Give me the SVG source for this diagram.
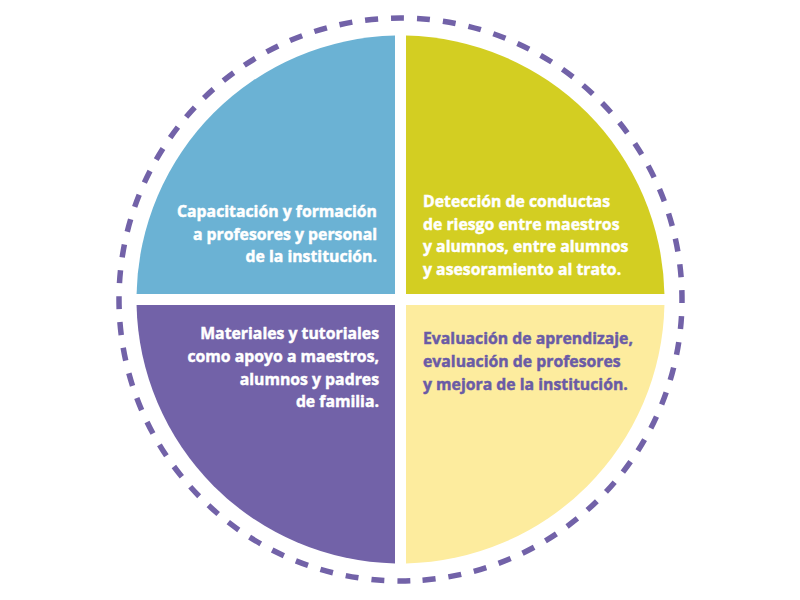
<svg xmlns="http://www.w3.org/2000/svg" width="800" height="600" viewBox="0 0 800 600">
<style>
.t{font-family:"Open Sans","Liberation Sans",sans-serif;font-weight:700;font-size:15.8px;stroke-width:0.45px}
.w{fill:#ffffff;stroke:#ffffff}
.p{fill:#6A5BA6;stroke:#6A5BA6}
.r{text-anchor:end}
</style>
<rect width="800" height="600" fill="#ffffff"/>
<g id="ring">
<circle cx="400.5" cy="299.5" r="281.5" fill="none" stroke="#7262A8" stroke-width="5.5" stroke-dasharray="13 13.01" transform="rotate(88 400.5 299.5)"/>
</g>
<g id="q-capacitacion">
<path d="M395,294 V35.557 A264,264 0 0 0 136.557,294 Z" fill="#6BB2D4"/>
<text class="t w r" x="377" y="217">Capacitación y formación</text>
<text class="t w r" x="377" y="239.5">a profesores y personal</text>
<text class="t w r" x="377" y="262">de la institución.</text>
</g>
<g id="q-deteccion">
<path d="M406,294 V35.557 A264,264 0 0 1 664.443,294 Z" fill="#D3CE22"/>
<text class="t w" x="423" y="207">Detección de conductas</text>
<text class="t w" x="423" y="229.5">de riesgo entre maestros</text>
<text class="t w" x="423" y="252">y alumnos, entre alumnos</text>
<text class="t w" x="423" y="274.5">y asesoramiento al trato.</text>
</g>
<g id="q-materiales">
<path d="M395,305 V563.443 A264,264 0 0 1 136.557,305 Z" fill="#7262A8"/>
<text class="t w r" x="379" y="338.5">Materiales y tutoriales</text>
<text class="t w r" x="379" y="361.5">como apoyo a maestros,</text>
<text class="t w r" x="379" y="384.5">alumnos y padres</text>
<text class="t w r" x="379" y="407">de familia.</text>
</g>
<g id="q-evaluacion">
<path d="M406,305 V563.443 A264,264 0 0 0 664.443,305 Z" fill="#FDEC9E"/>
<text class="t p" x="423" y="343.5">Evaluación de aprendizaje,</text>
<text class="t p" x="423" y="366.5">evaluación de profesores</text>
<text class="t p" x="423" y="389.5">y mejora de la institución.</text>
</g>
</svg>
